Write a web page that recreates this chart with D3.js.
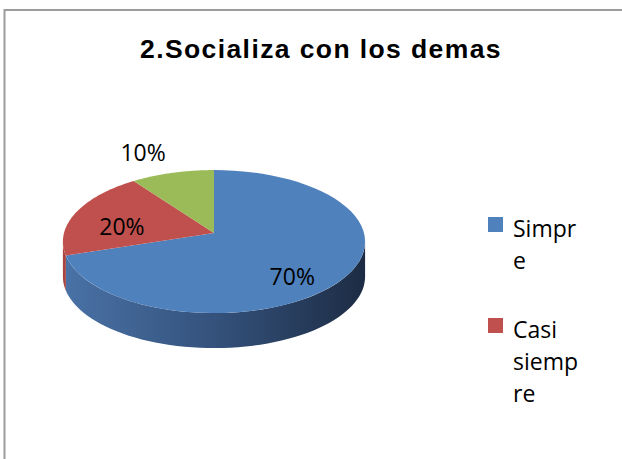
<!DOCTYPE html>
<html>
<head>
<meta charset="utf-8">
<script src="https://cdn.jsdelivr.net/npm/d3@7"></script>
<style>
  body { margin: 0; background: #fff; }
  svg { display: block; }
</style>
</head>
<body>
<svg id="canvas"></svg>
<script>
const title = '2.Socializa con los demas'
const categories = ['Simpre', 'Casi siempre', 'Nunca']
const values = [70, 20, 10]
const labels = ['70%', '20%', '10%']
// wrapped legend text as Excel shows it (third entry is cut off)
const legendLines = [['Simpr', 'e'], ['Casi', 'siemp', 're']]
const topColors = ['#4f81bd', '#c0504d', '#9bbb59']

const width = 622
const height = 459
// pie vertex, radii, thickness and a little perspective
const cx = 214, cy = 233, rx = 150, ry = 70.5, depth = 35, persp = 0.12

const canvas = d3.select('#canvas')
    .attr('width', width)
    .attr('height', height)

// chart frame (only top and left edges visible)
canvas.append('rect')
    .attr('x', 4.5).attr('y', 10)
    .attr('width', 800).attr('height', 600)
    .attr('fill', 'none')
    .attr('stroke', '#9c9c9c')
    .attr('stroke-width', 2)

canvas.append('text')
    .attr('x', 321).attr('y', 58)
    .attr('text-anchor', 'middle')
    .attr('font-family', 'Liberation Sans, Arial, sans-serif')
    .attr('font-weight', 'bold')
    .attr('font-size', 26.5)
    .attr('letter-spacing', 1.4)
    .text(title)

const defs = canvas.append('defs')
const sideGrad = [
    ['#4a72a6', '#34527c', '#1d2c44'],
    ['#a8433f', '#8c3532', '#6a2624'],
    ['#87a34c', '#6f873e', '#55692f']
]
sideGrad.forEach((stops, i) => {
    const g = defs.append('linearGradient')
        .attr('id', 'side' + i)
        .attr('gradientUnits', 'userSpaceOnUse')
        .attr('x1', cx - rx).attr('x2', cx + rx)
        .attr('y1', 0).attr('y2', 0)
    g.selectAll('stop').data(stops).enter().append('stop')
        .attr('offset', (d, j) => j / (stops.length - 1))
        .attr('stop-color', d => d)
})

const pie = d3.pie().sort(null).value(d => d)
const arcs = pie(values)

// project a point of the pie's top disc (angle clockwise from 12 o'clock)
const proj = (a, r = 1) => {
    const X = r * Math.sin(a), Z = -r * Math.cos(a)
    const f = 1 / (1 - persp * Z)
    return [cx + rx * X * f, cy + ry * Z * f]
}
const sample = (a0, a1) => d3.range(0, 61).map(k => a0 + (a1 - a0) * k / 60)

// side walls: visible between the two silhouette tangent points
const aLeft = 2 * Math.PI - Math.acos(-persp)
const aRight = Math.acos(-persp)
const sidePath = (d) => {
    const a0 = Math.max(d.startAngle, aRight)
    const a1 = Math.min(d.endAngle, aLeft)
    if (a1 <= a0) return null
    const steps = sample(a0, a1)
    const p = d3.path()
    steps.forEach((a, k) => {
        const [x, y] = proj(a)
        k === 0 ? p.moveTo(x, y) : p.lineTo(x, y)
    })
    steps.slice().reverse().forEach(a => {
        const [x, y] = proj(a)
        p.lineTo(x, y + depth)
    })
    p.closePath()
    return p.toString()
}

canvas.append('g').selectAll('path')
    .data(arcs.filter(d => sidePath(d)))
    .enter().append('path')
    .attr('d', sidePath)
    .attr('fill', d => `url(#side${d.index})`)

const topPath = (d) => {
    const p = d3.path()
    p.moveTo(cx, cy)
    sample(d.startAngle, d.endAngle).forEach(a => {
        const [x, y] = proj(a)
        p.lineTo(x, y)
    })
    p.closePath()
    return p.toString()
}
canvas.append('g').selectAll('path')
    .data(arcs)
    .enter().append('path')
    .attr('d', topPath)
    .attr('fill', d => topColors[d.index])

// data labels: small slices go outside
canvas.append('g').selectAll('text')
    .data(arcs)
    .enter().append('text')
    .attr('x', d => {
        const m = (d.startAngle + d.endAngle) / 2
        return cx + rx * (d.value < 15 ? 1.53 : 0.645) * Math.sin(m)
    })
    .attr('y', d => {
        const m = (d.startAngle + d.endAngle) / 2
        return cy + 11 - (d.value < 15 ? 95.7 : 55.7) * Math.cos(m)
    })
    .attr('dy', '0.36em')
    .attr('text-anchor', 'middle')
    .attr('font-family', 'Open Sans, sans-serif')
    .attr('font-size', 23)
    .attr('fill', '#000')
    .text((d, i) => labels[i])

const legend = canvas.append('g')
const items = legend.selectAll('g')
    .data(legendLines)
    .enter().append('g')
    .attr('transform', (d, i) => `translate(488,${217 + i * 101})`)
items.append('rect')
    .attr('width', 15).attr('height', 15)
    .attr('fill', (d, i) => topColors[i])
items.append('text')
    .attr('font-family', 'Open Sans, sans-serif')
    .attr('font-size', 23)
    .attr('fill', '#000')
    .selectAll('tspan')
    .data(d => d)
    .enter().append('tspan')
    .attr('x', 25)
    .attr('y', (d, j) => 20 + j * 32)
    .text(d => d)
</script>
</body>
</html>
